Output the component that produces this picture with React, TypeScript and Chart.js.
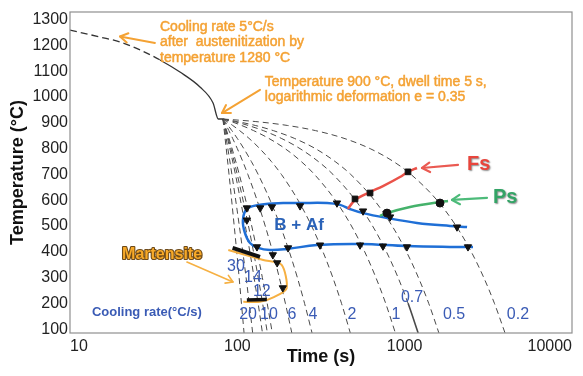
import React, { useEffect, useRef } from "react";
import { Chart, registerables } from "chart.js";
Chart.register(...registerables);

// ---------- axis ticks ----------
const TIME_TICKS = [10, 100, 1000, 10000];
const TEMP_TICKS = [100, 200, 300, 400, 500, 600, 700, 800, 900, 1000, 1100, 1200, 1300];

// ---------- austenitization cooling (time s / temp °C) ----------
const AUST_TIME = [10, 15.1, 19.9, 26.2, 34.5, 45.4, 59.8, 71.6, 77, 82];
const AUST_TEMP = [1260, 1233, 1214, 1183, 1144, 1097, 1039, 977, 915, 915];

// ---------- cooling curves ----------
const FAST_TEMPS = [915, 840, 700, 500, 400, 300, 200, 85];
const SLOW_TEMPS = [915, 905, 890, 870, 840, 800, 750, 700, 600, 500, 400, 300, 200, 85];
const T_30 = [82, 84.5, 89.2, 95.8, 99.2, 102.5, 105.8, 109.7];
const T_20 = [82, 85.8, 92.8, 102.8, 107.8, 112.8, 117.8, 123.5];
const T_14 = [82, 87.4, 97.4, 111.6, 118.8, 125.9, 133.1, 141.3];
const T_12 = [82, 88.3, 99.9, 116.6, 124.9, 133.3, 141.6, 151.2];
const T_10 = [82, 89.2, 102.7, 121.9, 131.5, 141.1, 150.8, 161.8];
const T_6 = [82, 83.6, 85.9, 89, 93.7, 100, 107.8, 115.6, 131.2, 146.8, 162.5, 178.1, 193.7, 211.7];
const T_4 = [82, 84.4, 88, 92.7, 99.9, 109.4, 121.3, 133.2, 157, 180.8, 204.6, 228.4, 252.2, 279.6];
const T_2 = [82, 86.7, 93.8, 103.2, 117.4, 136.2, 159.8, 183.4, 230.6, 277.8, 324.9, 372.1, 419.3, 473.5];
const T_1 = [82, 92, 106, 125, 154, 193, 241, 289, 385, 481, 577, 673, 770, 880];
const T_07 = [82, 96, 116, 143, 183, 237, 305, 373, 508, 643, 778, 913, 1048, 1204];
const T_05 = [82, 100, 128, 164, 219, 293, 384, 476, 659, 842, 1025, 1208, 1392, 1602];
const T_02 = [82, 129, 199, 293, 434, 622, 857, 1091, 1561, 2030, 2500, 2969, 3439, 3979];

// ---------- B + Af region boundary ----------
const BAF_TIME = [2360, 1866, 1185, 785, 564, 471, 411, 344, 237, 188, 137, 114, 108, 111, 119, 133, 157, 198, 299, 541, 1032, 1866, 2561];
const BAF_TEMP = [496, 500, 512, 531, 550, 566, 582, 589, 589, 589, 582, 566, 523, 473, 434, 415, 407, 411, 426, 430, 422, 419, 419];

// transformation markers
const TRI_TIME = [114, 137, 161, 237, 394, 564, 818, 2055, 114, 131, 163, 201, 312, 541, 742, 1032, 2390, 173, 187];
const TRI_TEMP = [570, 570, 574, 578, 589, 558, 535, 496, 523, 419, 388, 415, 426, 426, 422, 419, 419, 357, 260];

// ferrite start
const FS_TIME = [458, 491, 541, 621, 742, 937, 1047, 1185];
const FS_TEMP = [566, 593, 613, 632, 655, 690, 710, 725];
const FS_MARK_TIME = [505, 621, 1047];
const FS_MARK_TEMP = [605, 628, 710];

// pearlite start
const PS_TIME = [712, 784, 1076, 1626, 1816];
const PS_TEMP = [539, 550, 574, 593, 597];
const PS_MARK_TIME = [784, 1626];
const PS_MARK_TEMP = [550, 589];

// martensite
const MART_TIME = [88.3, 142.9, 184, 197, 164, 136.6, 108.5];
const MART_TEMP = [407, 368, 349, 258, 223, 206, 206];
const MS_TIME = [93.7, 136.6];
const MS_TEMP = [415, 380];
const MF_TIME = [114, 150];
const MF_TEMP = [213, 215];

// texts
const NOTE_COOL = ["Cooling rate 5°C/s", "after  austenitization by", "temperature 1280 °C"];
const NOTE_DEFORM = ["Temperature 900 °C, dwell time 5 s,", "logarithmic deformation e = 0.35"];
const RATE_TEXT = ["30", "14", "12", "20", "10", "6", "4", "2", "1", "0.7", "0.5", "0.2"];

const FAMILY = "'Liberation Sans', Arial, Helvetica, sans-serif";

const pts = (ts: number[], Ts: number[]) => ts.map((t, i) => ({ x: t, y: Ts[i] }));

function arrow(ctx: CanvasRenderingContext2D, x1: number, y1: number, x2: number, y2: number, color: string, w: number, head: number) {
  ctx.save();
  ctx.strokeStyle = color;
  ctx.lineWidth = w;
  ctx.lineCap = "round";
  ctx.lineJoin = "round";
  ctx.beginPath();
  ctx.moveTo(x1, y1);
  ctx.lineTo(x2, y2);
  ctx.stroke();
  const a = Math.atan2(y2 - y1, x2 - x1);
  ctx.beginPath();
  ctx.moveTo(x2 - head * Math.cos(a - 0.55), y2 - head * Math.sin(a - 0.55));
  ctx.lineTo(x2, y2);
  ctx.lineTo(x2 - head * Math.cos(a + 0.55), y2 - head * Math.sin(a + 0.55));
  ctx.stroke();
  ctx.restore();
}

const overlay = {
  id: "overlay",
  afterDatasetsDraw(chart: any) {
    const { ctx, chartArea: a, scales } = chart;
    const px = (t: number) => scales.x.getPixelForValue(t);
    const py = (T: number) => scales.y.getPixelForValue(T);
    ctx.save();
    // frame
    ctx.strokeStyle = "#8f8f8f";
    ctx.lineWidth = 1.2;
    ctx.strokeRect(a.left, a.top, a.right - a.left, a.bottom - a.top);

    // orange notes
    ctx.fillStyle = "#f4a234";
    ctx.strokeStyle = "#f4a234";
    ctx.lineWidth = 0.5;
    ctx.font = `14px ${FAMILY}`;
    ctx.textAlign = "left";
    ctx.textBaseline = "middle";
    NOTE_COOL.forEach((s, i) => {
      ctx.fillText(s, px(34.5), py(1272) + i * 15.5);
      ctx.strokeText(s, px(34.5), py(1272) + i * 15.5);
    });
    NOTE_DEFORM.forEach((s, i) => {
      ctx.fillText(s, px(146), py(1059) + i * 15);
      ctx.strokeText(s, px(146), py(1059) + i * 15);
    });
    arrow(ctx, px(32.2), py(1210), px(19.9), py(1235), "#f4a234", 2, 9);
    arrow(ctx, px(136.6), py(1028), px(80.9), py(938), "#f4a234", 2, 9);

    // Fs / Ps
    arrow(ctx, px(2084), py(737), px(1270), py(725), "#ea5a52", 2.2, 9);
    arrow(ctx, px(3105), py(609), px(1919), py(601), "#4dbb7a", 2.2, 9);
    ctx.save();
    ctx.shadowColor = "rgba(0,0,0,0.45)";
    ctx.shadowOffsetX = 1;
    ctx.shadowOffsetY = 1;
    ctx.shadowBlur = 1.5;
    ctx.font = `bold 20px ${FAMILY}`;
    ctx.fillStyle = "#e8453c";
    ctx.fillText("Fs", px(2358), py(737));
    ctx.fillStyle = "#33a466";
    ctx.fillText("Ps", px(3373), py(609));
    ctx.restore();

    // B + Af
    ctx.font = `bold 17px ${FAMILY}`;
    ctx.fillStyle = "#2a62b8";
    ctx.textAlign = "center";
    ctx.fillText("B + Af", px(233.7), py(504));

    // Martensite
    arrow(ctx, px(50), py(360), px(94.2), py(283), "#f6b042", 1.6, 8);
    ctx.font = `bold 16px ${FAMILY}`;
    ctx.lineWidth = 2.2;
    ctx.strokeStyle = "#6e4a18";
    ctx.lineJoin = "round";
    ctx.strokeText("Martensite", px(35.5), py(391));
    ctx.fillStyle = "#f7a928";
    ctx.fillText("Martensite", px(35.5), py(391));

    // cooling rate labels
    ctx.fillStyle = "#3a5bb5";
    ctx.font = `bold 13px ${FAMILY}`;
    ctx.fillText("Cooling rate(°C/s)", px(28.8), py(163));
    ctx.font = `16px ${FAMILY}`;
    const RATE_POS: [number, number][] = [
      [98.2, 341], [124, 298], [140, 244], [116, 155], [154.5, 155], [212, 155],
      [283, 155], [484, 155], [887, 155], [1107, 221], [1972, 155], [4753, 155],
    ];
    RATE_TEXT.forEach((s, i) => ctx.fillText(s, px(RATE_POS[i][0]), py(RATE_POS[i][1])));
    ctx.restore();
  },
};

export default function App() {
  const ref = useRef<HTMLCanvasElement | null>(null);
  useEffect(() => {
    document.body.style.margin = "0";
    if (!ref.current) return;
    const fan = (ts: number[], Ts: number[], extra: any = {}) => ({
      data: pts(ts, Ts),
      borderColor: "#4a4a4a",
      borderWidth: 1,
      borderDash: [6, 4],
      pointRadius: 0,
      cubicInterpolationMode: "monotone",
      ...extra,
    });
    const marker = (ts: number[], Ts: number[], style: string, r: number, rot = 0) => ({
      data: pts(ts, Ts),
      showLine: false,
      pointStyle: style,
      pointRadius: r,
      pointRotation: rot,
      pointBackgroundColor: "#111",
      pointBorderColor: "#111",
      pointBorderWidth: 1,
    });
    const curve = (ts: number[], Ts: number[], color: string, w: number, tension: number, mono = false) => ({
      data: pts(ts, Ts),
      borderColor: color,
      borderWidth: w,
      pointRadius: 0,
      tension,
      ...(mono ? { cubicInterpolationMode: "monotone" } : {}),
    });
    const chart = new Chart(ref.current, {
      type: "line",
      data: {
        datasets: [
          marker(TRI_TIME, TRI_TEMP, "triangle", 4.2, 180),
          marker(FS_MARK_TIME, FS_MARK_TEMP, "rect", 4),
          marker(PS_MARK_TIME, PS_MARK_TEMP, "circle", 4),
          curve(MS_TIME, MS_TEMP, "#111", 4, 0),
          curve(MF_TIME, MF_TEMP, "#111", 3.5, 0),
          curve(MART_TIME, MART_TEMP, "#f6b042", 2, 0.25),
          curve(FS_TIME, FS_TEMP, "#ea5249", 2.5, 0, true),
          curve(PS_TIME, PS_TEMP, "#45b26b", 2.5, 0, true),
          curve(BAF_TIME, BAF_TEMP, "#1f6fd6", 2.5, 0.4),
          {
            data: pts(AUST_TIME, AUST_TEMP),
            borderColor: "#333",
            borderWidth: 1.3,
            pointRadius: 0,
            cubicInterpolationMode: "monotone",
            segment: { borderDash: (c: any) => (c.p1.parsed.x <= 35 ? [7, 4] : []) },
          },
          fan(T_30, FAST_TEMPS),
          fan(T_20, FAST_TEMPS),
          fan(T_14, FAST_TEMPS),
          fan(T_12, FAST_TEMPS),
          fan(T_10, FAST_TEMPS),
          fan(T_6, SLOW_TEMPS),
          fan(T_4, SLOW_TEMPS),
          fan(T_2, SLOW_TEMPS),
          fan(T_1, SLOW_TEMPS),
          fan(T_07, SLOW_TEMPS, {
            segment: { borderDash: (c: any) => (c.p0.parsed.y <= 200 ? [] : undefined), borderWidth: (c: any) => (c.p0.parsed.y <= 200 ? 1.6 : undefined) },
          }),
          fan(T_05, SLOW_TEMPS),
          fan(T_02, SLOW_TEMPS),
        ] as any,
      },
      options: {
        animation: false,
        responsive: false,
        events: [],
        layout: { padding: { top: 12, right: 11, bottom: 0, left: 0 } },
        plugins: { legend: { display: false }, tooltip: { enabled: false } },
        scales: {
          x: {
            type: "logarithmic",
            min: 10,
            max: 10000,
            afterBuildTicks: (s: any) => {
              s.ticks = TIME_TICKS.map((v) => ({ value: v }));
            },
            afterFit: (s: any) => {
              s.height = 43;
              s.paddingLeft = 0;
              s.paddingRight = 0;
            },
            grid: { display: false, drawTicks: false },
            border: { display: false },
            ticks: {
              align: "inner",
              padding: 4,
              autoSkip: false,
              maxRotation: 0,
              color: "#222",
              font: { size: 16, family: FAMILY },
              callback: (v: any) => String(v),
            },
            title: {
              display: true,
              text: "Time (s)",
              color: "#111",
              font: { size: 18, weight: "bold", family: FAMILY },
              padding: { top: 0, bottom: 8 },
            },
          },
          y: {
            type: "linear",
            min: 85,
            max: 1330,
            afterBuildTicks: (s: any) => {
              s.ticks = TEMP_TICKS.map((v) => ({ value: v }));
            },
            afterFit: (s: any) => {
              s.width = 70;
              s.paddingTop = 0;
              s.paddingBottom = 0;
            },
            grid: { display: false, drawTicks: false },
            border: { display: false },
            ticks: {
              padding: 2,
              color: "#222",
              font: { size: 16, family: FAMILY },
              callback: (v: any) => String(v),
            },
            title: {
              display: true,
              text: "Temperature (°C)",
              color: "#111",
              font: { size: 18, weight: "bold", family: FAMILY },
              padding: { top: 7, bottom: 0 },
            },
          },
        },
      } as any,
      plugins: [overlay],
    });
    return () => chart.destroy();
  }, []);
  return (
    <div style={{ width: 583, height: 376, background: "#fff" }}>
      <canvas ref={ref} width={583} height={376} />
    </div>
  );
}
